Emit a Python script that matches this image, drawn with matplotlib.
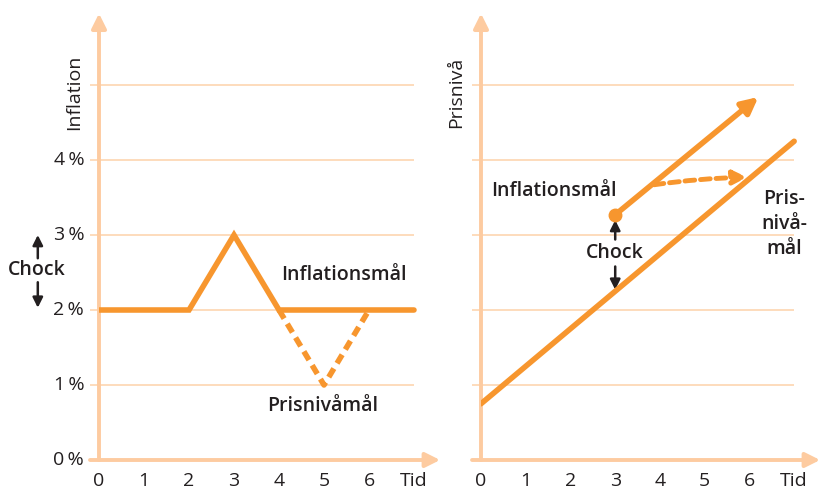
import matplotlib
matplotlib.use('Agg')
import matplotlib.pyplot as plt

plt.rcParams['font.family'] = ['Open Sans', 'DejaVu Sans']

ORANGE = '#F7962E'
GRID = '#FDD6B0'
AXIS = '#FDCBA0'
TEXT = '#231F20'

# left panel: inflation
time = [0, 1, 2, 3, 4, 5, 6]
time_labels = ['0', '1', '2', '3', '4', '5', '6']
infl_t = [0, 2, 3, 4, 7]
infl_inflation_target = [2, 2, 3, 2, 2]
price_t = [4, 5, 6]
infl_price_target = [2, 1, 2]
yticks = [0, 1, 2, 3, 4]
grid_levels = [1, 2, 3, 4, 5]

# right panel: price level
level_t = [0, 7]
level_price_target = [0.75, 4.25]
level_infl_t = [3, 6.2]
level_inflation_target = [3.27, 4.84]
shift_t = [3.87, 5.95]
shift_y = [3.67, 3.77]

fig = plt.figure(figsize=(8.21, 4.9), dpi=100)
W, H = 821, 490
ax1 = fig.add_axes([99 / W, 30 / H, 342 / W, 448 / H])
ax2 = fig.add_axes([481 / W, 30 / H, 340 / W, 448 / H])

FS = 14


def black_arrow(ax, y0, y1, x):
    ax.annotate('', xy=(x, y1), xytext=(x, y0),
                arrowprops=dict(arrowstyle='-|>', color=TEXT, lw=1.8, mutation_scale=15,
                                shrinkA=0, shrinkB=0), annotation_clip=False)


def base(ax):
    ax.set_xlim(0, 342 / 45)
    ax.set_ylim(0, 448 / 75)
    ax.axis('off')
    ax.hlines(grid_levels, -0.2, 7.0, color=GRID, lw=1.2, clip_on=False, zorder=1)
    ax.annotate('', xy=(ax.get_xlim()[1] - 0.02, 0), xytext=(-0.2, 0),
                arrowprops=dict(arrowstyle='-|>', color=AXIS, lw=2.8,
                                mutation_scale=22, shrinkA=0, shrinkB=0),
                annotation_clip=False, zorder=2)
    ax.annotate('', xy=(0, ax.get_ylim()[1] - 0.02), xytext=(0, 0),
                arrowprops=dict(arrowstyle='-|>', color=AXIS, lw=2.8,
                                mutation_scale=22, shrinkA=0, shrinkB=0),
                annotation_clip=False, zorder=2)
    for t, lab in zip(time, time_labels):
        ax.text(t, -0.28, lab, ha='center', va='center', fontsize=FS, color=TEXT)
    ax.text(7.0, -0.28, 'Tid', ha='center', va='center', fontsize=FS, color=TEXT)


base(ax1)
base(ax2)

# left panel content
for v in yticks:
    ax1.text(-0.33, v, '%d\u2009%%' % v, ha='right', va='center', fontsize=FS, color=TEXT)
ax1.text(-0.55, 4.9, 'Inflation', rotation=90, ha='center', va='center',
         fontsize=FS, color=TEXT)
ax1.plot(infl_t, infl_inflation_target, color=ORANGE, lw=4, solid_capstyle='round',
         solid_joinstyle='miter', zorder=4)
ax1.plot(price_t, infl_price_target, color=ORANGE, lw=4, ls=(0, (1.8, 1.1)),
         dash_capstyle='butt', zorder=3)
ax1.text(5.44, 2.47, 'Inflationsmål', ha='center', va='center', fontsize=FS,
         fontweight='semibold', color=TEXT)
ax1.text(4.98, 0.72, 'Prisnivåmål', ha='center', va='center', fontsize=FS,
         fontweight='semibold', color=TEXT)
ax1.text(-1.38, 2.53, 'Chock', ha='center', va='center', fontsize=FS,
         fontweight='semibold', color=TEXT)
black_arrow(ax1, 2.69, 3.0, -1.36)
black_arrow(ax1, 2.37, 2.03, -1.36)

# right panel content
ax2.text(-0.55, 4.9, 'Prisnivå', rotation=90, ha='center', va='center',
         fontsize=FS, color=TEXT)
ax2.plot(level_t, level_price_target, color=ORANGE, lw=4, solid_capstyle='round', zorder=4)
ax2.annotate('', xy=(level_infl_t[1], level_inflation_target[1]),
             xytext=(level_infl_t[0], level_inflation_target[0]),
             arrowprops=dict(arrowstyle='-|>', color=ORANGE, lw=4, mutation_scale=24,
                             shrinkA=0, shrinkB=0), zorder=4)
ax2.plot([level_infl_t[0]], [level_inflation_target[0]], 'o', color=ORANGE, ms=9, zorder=5)
ax2.annotate('', xy=(shift_t[1], shift_y[1]), xytext=(shift_t[0], shift_y[0]),
             arrowprops=dict(arrowstyle='-|>', color=ORANGE, lw=3.5, ls=(0, (2.0, 1.2)),
                             mutation_scale=20, shrinkA=0, shrinkB=0,
                             connectionstyle='arc3,rad=-0.03'), zorder=3)
ax2.text(0.22, 3.59, 'Inflationsmål', ha='left', va='center', fontsize=FS,
         fontweight='semibold', color=TEXT)
ax2.text(6.78, 3.15, 'Pris-\nnivå-\nmål', ha='center', va='center', fontsize=FS,
         fontweight='semibold', color=TEXT, linespacing=1.35)
ax2.text(3.0, 2.76, 'Chock', ha='center', va='center', fontsize=FS,
         fontweight='semibold', color=TEXT)
black_arrow(ax2, 2.94, 3.2, 3.0)
black_arrow(ax2, 2.58, 2.27, 3.0)

fig.savefig('out.png', dpi=100)
